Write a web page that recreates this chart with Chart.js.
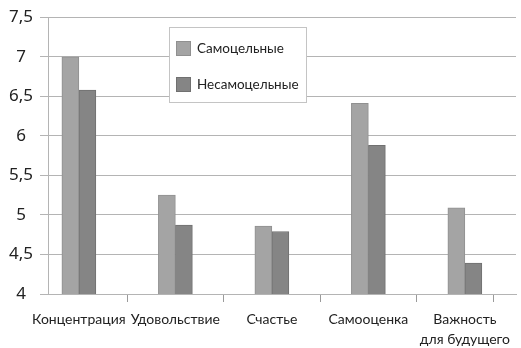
<!DOCTYPE html>
<html>
<head>
<meta charset="utf-8">
<script src="https://cdn.jsdelivr.net/npm/chart.js@4/dist/chart.umd.min.js"></script>
<style>
  html, body { margin: 0; padding: 0; background: #fff; }
  #wrap { width: 521px; height: 348px; }
</style>
</head>
<body>
<div id="wrap"><canvas id="motivChart" width="521" height="348"></canvas></div>
<script>
const categories = ["Концентрация", "Удовольствие", "Счастье", "Самооценка", ["Важность", "для будущего"]];
const seriesNames = ["Самоцельные", "Несамоцельные"];
const autotelic = [7.0, 5.25, 4.86, 6.41, 5.09];
const nonAutotelic = [6.58, 4.87, 4.79, 5.88, 4.39];
const yTicks = [4, 4.5, 5, 5.5, 6, 6.5, 7, 7.5];
const dividers = [0.5, 1.5, 2.5, 3.5, 4.3];

const font = "Lato, 'Noto Sans', sans-serif";
const gridGray = "#b4b4b4";

function toPoints(values) {
  return values.map((v, i) => ({ x: i, y: v }));
}

// boxed legend sitting inside the plot
const boxLegend = {
  id: "boxLegend",
  afterDraw(chart) {
    const c = chart.ctx;
    const left = 169, top = 27, w = 137, h = 75;
    c.save();
    c.fillStyle = "#fff";
    c.fillRect(left, top, w, h);
    c.strokeStyle = "#c4c4c4";
    c.lineWidth = 1;
    c.strokeRect(left + 0.5, top + 0.5, w, h);
    c.font = "13.5px " + font;
    c.textBaseline = "middle";
    chart.data.datasets.forEach((ds, i) => {
      const y = top + 14 + i * 36;
      c.fillStyle = ds.backgroundColor;
      c.fillRect(left + 7, y, 15, 15);
      c.strokeStyle = ds.borderColor;
      c.strokeRect(left + 7.5, y + 0.5, 14, 14);
      c.fillStyle = "#222";
      c.fillText(ds.label, left + 28, y + 8);
    });
    c.restore();
  }
};

new Chart(document.getElementById("motivChart"), {
  type: "bar",
  data: {
    datasets: [
      {
        label: seriesNames[0],
        data: toPoints(autotelic),
        backgroundColor: "#a4a4a4",
        borderColor: "#909090",
        borderWidth: 1
      },
      {
        label: seriesNames[1],
        data: toPoints(nonAutotelic),
        backgroundColor: "#858585",
        borderColor: "#707070",
        borderWidth: 1
      }
    ]
  },
  options: {
    responsive: false,
    animation: false,
    barThickness: 17,
    layout: { padding: { top: 1, right: 5, left: 0, bottom: 0 } },
    plugins: { legend: { display: false }, tooltip: { enabled: false } },
    scales: {
      x: {
        type: "linear",
        position: "bottom",
        weight: 0,
        offset: false,
        min: -0.32,
        max: 4.53,
        afterBuildTicks(scale) { scale.ticks = dividers.map(v => ({ value: v })); },
        afterFit(scale) { scale.height = 9; },
        ticks: { autoSkip: false, maxRotation: 0, callback: () => "" },
        grid: { offset: false, drawOnChartArea: false, tickLength: 8, color: "#9a9a9a" },
        border: { color: gridGray }
      },
      x2: {
        type: "linear",
        position: "bottom",
        weight: 1,
        offset: false,
        min: -0.32,
        max: 4.53,
        afterBuildTicks(scale) { scale.ticks = categories.map((c, i) => ({ value: i })); },
        afterFit(scale) { scale.height = 45; },
        ticks: {
          autoSkip: false,
          maxRotation: 0,
          padding: 6,
          color: "#222",
          font: { family: font, size: 14, lineHeight: 1.45 },
          callback: (v, i) => categories[i]
        },
        grid: { display: false, drawTicks: false, offset: false },
        border: { display: false }
      },
      y: {
        min: 4,
        max: 7.5,
        afterBuildTicks(scale) { scale.ticks = yTicks.map(v => ({ value: v })); },
        afterFit(scale) { scale.width = 48; },
        ticks: {
          crossAlign: "center",
          padding: 7,
          color: "#222",
          font: { family: "'Noto Sans', sans-serif", size: 17 },
          callback: v => String(v).replace(".", ",")
        },
        grid: { color: gridGray, tickLength: 8 },
        border: { color: gridGray }
      }
    }
  },
  plugins: [boxLegend]
});
</script>
</body>
</html>
